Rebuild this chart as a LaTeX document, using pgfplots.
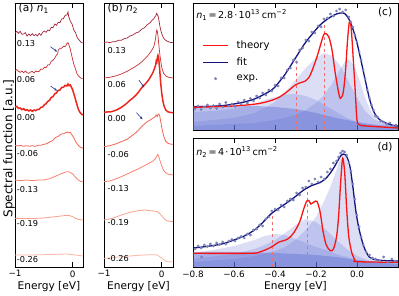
\documentclass[border=0pt]{standalone}
\usepackage{fontspec}
\setmainfont{DejaVu Sans}
\usepackage{pgfplots}
\pgfplotsset{compat=1.18}
\usetikzlibrary{arrows.meta}

\definecolor{c1}{RGB}{165,35,55}
\definecolor{c2}{RGB}{200,45,50}
\definecolor{c3}{RGB}{235,40,30}
\definecolor{c4}{RGB}{244,100,85}
\definecolor{c5}{RGB}{247,130,112}
\definecolor{c6}{RGB}{249,160,140}
\definecolor{c7}{RGB}{251,185,165}
\definecolor{arrowblue}{RGB}{40,50,150}
\definecolor{theoryred}{RGB}{250,20,20}
\definecolor{fitnavy}{RGB}{20,20,130}
\definecolor{expcol}{RGB}{125,130,185}
\definecolor{compblue}{RGB}{90,105,210}
\definecolor{dashred}{RGB}{240,110,110}

\pgfplotsset{
  specax/.style={scale only axis, height=264pt, xmin=-1, ymin=9, ymax=801, y dir=reverse,
    xtick={-1,0}, xticklabels={−1,0}, ytick=\empty,
    tick align=inside, major tick length=5pt,
    tick style={black, line width=0.8pt}, axis line style={black, line width=0.8pt},
    xticklabel style={font=\fontsize{8.8}{9}\selectfont},
    xlabel={Energy [eV]},
    xlabel style={at={(axis description cs:0.5,0)}, anchor=north, inner sep=0pt, yshift=-14pt, font=\fontsize{10.6}{12}\selectfont},
    clip=true},
  rightax/.style={scale only axis, width=205pt, xmin=-0.8, xmax=0.2, ymin=0,
    xtick={-0.8,-0.6,-0.4,-0.2,0}, ytick=\empty,
    tick align=inside, major tick length=5pt,
    tick style={black, line width=0.8pt}, axis line style={black, line width=0.8pt},
    xticklabel style={font=\fontsize{8.8}{9}\selectfont}, clip=true},
  comp/.style={fill=compblue, fill opacity=0.22, draw=none, forget plot},
  base/.style={fill=compblue, fill opacity=0.4, draw=none, forget plot},
  legline red/.style={legend image code/.code={\draw[theoryred, line width=1.3pt] (0pt,0pt) -- (25pt,0pt);}},
  legline navy/.style={legend image code/.code={\draw[fitnavy, line width=1.3pt] (0pt,0pt) -- (25pt,0pt);}},
  legdot/.style={legend image code/.code={\fill[expcol] (12.5pt,0pt) circle (1.3pt);}},
}

\begin{document}
\begin{tikzpicture}
\useasboundingbox (0,0) rectangle (399pt,296pt);

% ---------------- panel (a)
\begin{axis}[specax, at={(15pt,29pt)}, anchor=south west, width=68pt, xmax=0.18,
  ylabel={Spectral function [a.u.]},
  ylabel style={at={(axis description cs:0,0.4545)}, anchor=south, inner sep=0pt, xshift=-1.5pt, font=\fontsize{12}{14}\selectfont}]
\addplot[c1, line width=0.7pt] coordinates {
(-1.00,99) (-0.97,94) (-0.94,100) (-0.91,94) (-0.88,103) (-0.85,102) (-0.82,98) (-0.79,108) (-0.76,102) (-0.73,107)
(-0.70,101) (-0.67,107) (-0.64,103) (-0.61,108) (-0.58,100) (-0.55,106) (-0.52,97) (-0.49,93) (-0.46,97) (-0.43,90)
(-0.40,92) (-0.37,82) (-0.34,83) (-0.31,72) (-0.28,76) (-0.25,67) (-0.22,68) (-0.19,57) (-0.16,56) (-0.13,46)
(-0.10,45) (-0.08,36) (-0.07,48) (-0.04,64) (-0.01,72) (0.02,90) (0.05,98) (0.08,113) (0.11,119) (0.14,126) (0.17,129)};
\addplot[c2, line width=0.7pt] coordinates {
(-1.00,212) (-0.97,209) (-0.94,214) (-0.91,217) (-0.88,213) (-0.85,218) (-0.82,213) (-0.79,218) (-0.76,220) (-0.73,216)
(-0.70,214) (-0.67,219) (-0.64,213) (-0.61,215) (-0.58,214) (-0.55,207) (-0.52,208) (-0.49,202) (-0.46,203) (-0.43,195)
(-0.40,194) (-0.37,184) (-0.34,181) (-0.31,174) (-0.28,165) (-0.26,162) (-0.25,150) (-0.22,145) (-0.19,145) (-0.16,139)
(-0.13,140) (-0.10,131) (-0.08,128) (-0.06,137) (-0.04,148) (-0.01,171) (0.02,192) (0.05,207) (0.08,223) (0.11,229) (0.14,234) (0.17,236)};
\addplot[c3, line width=1.5pt] coordinates {
(-1.00,321) (-0.97,319) (-0.94,325) (-0.91,324) (-0.88,329) (-0.85,326) (-0.82,331) (-0.79,329) (-0.76,333) (-0.73,330)
(-0.70,334) (-0.67,330) (-0.64,332) (-0.61,328) (-0.58,328) (-0.55,322) (-0.52,321) (-0.49,314) (-0.46,311) (-0.43,304)
(-0.40,301) (-0.37,292) (-0.34,290) (-0.31,281) (-0.28,279) (-0.25,271) (-0.22,270) (-0.19,262) (-0.16,262) (-0.13,256)
(-0.10,258) (-0.08,252) (-0.06,257) (-0.04,255) (-0.02,262) (0.00,269) (0.02,281) (0.04,292) (0.06,305) (0.08,317)
(0.10,328) (0.12,335) (0.14,340) (0.16,343) (0.18,345)};
\addplot[c4, line width=0.8pt] coordinates {
(-1.00,436) (-0.95,438) (-0.90,436) (-0.85,439) (-0.80,437) (-0.75,439) (-0.70,437) (-0.65,439) (-0.60,436) (-0.55,436)
(-0.50,433) (-0.45,431) (-0.40,426) (-0.35,422) (-0.30,413) (-0.25,409) (-0.20,402) (-0.15,401) (-0.10,396) (-0.07,398)
(-0.04,397) (-0.01,405) (0.02,413) (0.05,424) (0.08,432) (0.11,438) (0.14,442) (0.18,445)};
\addplot[c5, line width=0.8pt] coordinates {
(-1.00,540) (-0.90,542) (-0.80,540) (-0.70,542) (-0.60,540) (-0.50,540) (-0.40,536) (-0.30,529) (-0.20,521) (-0.15,518)
(-0.10,515) (-0.05,516) (0.00,522) (0.05,532) (0.10,540) (0.14,544) (0.18,546)};
\addplot[c6, line width=0.8pt] coordinates {
(-1.00,655) (-0.80,656) (-0.60,655) (-0.50,654) (-0.40,652) (-0.30,650) (-0.20,648) (-0.10,646) (-0.05,647) (0.00,650)
(0.05,655) (0.10,658) (0.18,660)};
\addplot[c7, line width=0.8pt] coordinates {
(-1.00,765) (-0.70,765) (-0.50,764) (-0.30,763) (-0.10,762) (0.00,764) (0.10,766) (0.18,768)};
\addplot[arrowblue, line width=0.6pt, -{Stealth[length=3pt,width=2.5pt]}] coordinates {(-0.385,140) (-0.27,155)};
\addplot[arrowblue, line width=0.6pt, -{Stealth[length=3pt,width=2.5pt]}] coordinates {(-0.385,258) (-0.27,272)};
\begin{scope}[font=\fontsize{8.2}{9}\selectfont]
\node[anchor=west, inner sep=0pt] at (axis cs:-0.97,130) {0.13};
\node[anchor=west, inner sep=0pt] at (axis cs:-0.97,240) {0.06};
\node[anchor=west, inner sep=0pt] at (axis cs:-0.97,352) {0.00};
\node[anchor=west, inner sep=0pt] at (axis cs:-0.97,462) {-0.06};
\node[anchor=west, inner sep=0pt] at (axis cs:-0.97,570) {-0.13};
\node[anchor=west, inner sep=0pt] at (axis cs:-0.97,672) {-0.19};
\node[anchor=west, inner sep=0pt] at (axis cs:-0.97,778) {-0.26};
\end{scope}
\end{axis}

% ---------------- panel (b)
\begin{axis}[specax, at={(104pt,29pt)}, anchor=south west, width=69pt, xmax=0.195]
\addplot[c1, line width=0.7pt] coordinates {
(-1.00,128) (-0.95,126) (-0.90,128) (-0.85,125) (-0.80,125) (-0.75,121) (-0.70,121) (-0.65,116) (-0.60,114) (-0.55,108)
(-0.50,105) (-0.45,99) (-0.40,96) (-0.35,88) (-0.30,83) (-0.25,74) (-0.20,68) (-0.17,61) (-0.14,57) (-0.12,51)
(-0.10,47) (-0.09,40) (-0.075,44) (-0.06,50) (-0.045,65) (-0.03,80) (-0.015,92) (0.00,101) (0.02,110) (0.04,116)
(0.07,121) (0.10,124) (0.14,127) (0.195,128)};
\addplot[c2, line width=0.7pt] coordinates {
(-1.00,234) (-0.95,233) (-0.90,232) (-0.85,230) (-0.80,228) (-0.75,225) (-0.70,222) (-0.65,218) (-0.60,214) (-0.55,209)
(-0.50,204) (-0.45,199) (-0.40,193) (-0.35,186) (-0.30,178) (-0.25,169) (-0.20,158) (-0.17,150) (-0.14,141) (-0.12,128)
(-0.105,112) (-0.095,98) (-0.085,90) (-0.075,95) (-0.065,108) (-0.05,135) (-0.035,160) (-0.02,180) (0.00,202) (0.03,219)
(0.07,228) (0.12,232) (0.195,234)};
\addplot[c3, line width=1.5pt] coordinates {
(-1.00,337) (-0.95,336) (-0.90,336) (-0.85,334) (-0.80,331) (-0.75,327) (-0.70,322) (-0.65,316) (-0.60,309) (-0.55,301)
(-0.50,294) (-0.45,286) (-0.40,276) (-0.35,264) (-0.30,255) (-0.26,247) (-0.22,238) (-0.19,229) (-0.16,220) (-0.14,212)
(-0.12,203) (-0.105,195) (-0.095,183) (-0.085,186) (-0.075,172) (-0.065,166) (-0.055,172) (-0.045,190) (-0.035,210) (-0.02,245)
(0.00,280) (0.02,303) (0.04,318) (0.07,330) (0.10,335) (0.14,337) (0.195,338)};
\addplot[c4, line width=0.8pt] coordinates {
(-1.00,440) (-0.90,437) (-0.80,432) (-0.70,425) (-0.60,418) (-0.50,405) (-0.45,398) (-0.40,390) (-0.35,380) (-0.30,372)
(-0.25,365) (-0.20,360) (-0.15,354) (-0.12,351) (-0.095,345) (-0.08,350) (-0.065,343) (-0.05,342) (-0.035,348) (-0.02,362)
(0.00,382) (0.02,398) (0.04,412) (0.07,424) (0.10,429) (0.14,432) (0.195,433)};
\addplot[c5, line width=0.8pt] coordinates {
(-1.00,545) (-0.90,543) (-0.80,537) (-0.70,530) (-0.60,522) (-0.50,514) (-0.40,506) (-0.30,497) (-0.20,488) (-0.15,483)
(-0.11,476) (-0.09,470) (-0.07,463) (-0.055,468) (-0.04,476) (-0.02,488) (0.00,498) (0.03,510) (0.06,517) (0.10,522) (0.195,525)};
\addplot[c6, line width=0.8pt] coordinates {
(-1.00,660) (-0.85,655) (-0.70,645) (-0.55,637) (-0.40,632) (-0.30,630) (-0.20,632) (-0.10,634) (-0.05,638) (0.00,647)
(0.05,658) (0.10,663) (0.195,665)};
\addplot[c7, line width=0.8pt] coordinates {
(-1.00,775) (-0.85,773) (-0.70,770) (-0.55,768) (-0.40,766) (-0.20,764) (-0.10,764) (-0.05,768) (0.00,775) (0.05,781)
(0.10,785) (0.195,786)};
\addplot[arrowblue, line width=0.6pt, -{Stealth[length=3pt,width=2.5pt]}] coordinates {(-0.397,240) (-0.305,262)};
\addplot[arrowblue, line width=0.6pt, -{Stealth[length=3pt,width=2.5pt]}] coordinates {(-0.437,338) (-0.333,358)};
\begin{scope}[font=\fontsize{8.2}{9}\selectfont]
\node[anchor=west, inner sep=0pt] at (axis cs:-0.94,152) {0.13};
\node[anchor=west, inner sep=0pt] at (axis cs:-0.94,255) {0.06};
\node[anchor=west, inner sep=0pt] at (axis cs:-0.94,355) {0.00};
\node[anchor=west, inner sep=0pt] at (axis cs:-0.94,465) {-0.06};
\node[anchor=west, inner sep=0pt] at (axis cs:-0.94,565) {-0.13};
\node[anchor=west, inner sep=0pt] at (axis cs:-0.94,668) {-0.19};
\node[anchor=west, inner sep=0pt] at (axis cs:-0.94,775) {-0.26};
\end{scope}
\end{axis}

% panel titles (a), (b)
\node[anchor=west, inner sep=0pt, font=\fontsize{10.6}{12}\selectfont] at (18.5pt,287.5pt) {(a) \textit{n}\textsubscript{1}};
\node[anchor=west, inner sep=0pt, font=\fontsize{10.6}{12}\selectfont] at (107.5pt,287.5pt) {(b) \textit{n}\textsubscript{2}};

% ---------------- panel (c)
\begin{axis}[rightax, at={(193pt,166pt)}, anchor=south west, height=127pt, ymax=127, xticklabels={},
  legend style={draw=none, fill=none, at={(axis description cs:0.045,0.72)}, anchor=north west,
    font=\fontsize{10.1}{11}\selectfont, row sep=4pt, column sep=6pt, inner sep=0pt},
  legend cell align=left]
\addplot[base] coordinates {(-0.8,24) (-0.6,24) (-0.5,24) (-0.4,23) (-0.3,21) (-0.2,17) (-0.1,12) (0,8) (0.1,5) (0.2,4)} \closedcycle;
\addplot[comp] coordinates {(-0.8,18) (-0.7,19) (-0.6,21) (-0.5,26) (-0.45,30) (-0.4,33) (-0.35,35.5) (-0.3,36) (-0.25,34)
 (-0.2,30) (-0.15,24) (-0.1,18) (-0.05,12) (0,8) (0.05,5) (0.1,4) (0.2,3)} \closedcycle;
\addplot[comp] coordinates {(-0.8,8) (-0.6,12) (-0.5,17) (-0.45,22) (-0.4,28) (-0.35,38) (-0.3,50) (-0.25,62) (-0.2,72)
 (-0.16,77) (-0.12,74) (-0.08,64) (-0.04,48) (0,32) (0.04,19) (0.08,11) (0.12,7) (0.2,4)} \closedcycle;
\addplot[comp] coordinates {(-0.8,4) (-0.5,7) (-0.4,10) (-0.3,15) (-0.25,20) (-0.2,27) (-0.16,35) (-0.12,47) (-0.09,58)
 (-0.06,68) (-0.045,71) (-0.03,69) (-0.01,62) (0.01,51) (0.03,38) (0.05,27) (0.07,18) (0.1,10) (0.14,6) (0.2,4)} \closedcycle;
\addplot[dashred, dashed, line width=0.5pt, forget plot] coordinates {(-0.298,0) (-0.298,72)};
\addplot[dashred, dashed, line width=0.5pt, forget plot] coordinates {(-0.158,0) (-0.158,110)};
\addplot[only marks, mark=*, mark size=1.2pt, expcol, forget plot] coordinates {
(-0.79,21) (-0.775,24) (-0.76,20.5) (-0.745,23) (-0.73,25) (-0.715,22) (-0.70,24.5) (-0.685,21.5) (-0.67,26) (-0.655,23)
(-0.64,27.5) (-0.625,24) (-0.61,26) (-0.595,23.5) (-0.58,28) (-0.565,26) (-0.55,30) (-0.535,27) (-0.52,31.5) (-0.505,29)
(-0.49,34) (-0.475,32) (-0.46,37) (-0.445,35) (-0.43,40) (-0.415,39) (-0.40,45) (-0.385,44) (-0.37,52) (-0.355,52)
(-0.34,60) (-0.325,62) (-0.31,70) (-0.295,68) (-0.28,80) (-0.265,82) (-0.25,90) (-0.235,89) (-0.22,98) (-0.205,97)
(-0.19,104) (-0.175,103) (-0.16,111) (-0.145,112) (-0.13,116) (-0.115,114) (-0.10,119) (-0.085,121) (-0.07,118) (-0.055,120)
(-0.04,113) (-0.03,108) (-0.02,103) (-0.01,95) (0.00,88) (0.01,78) (0.02,70) (0.03,60) (0.04,51) (0.05,40)
(0.06,32) (0.07,25) (0.08,20) (0.09,14) (0.10,13) (0.115,9) (0.13,8) (0.145,6) (0.16,7) (0.175,4) (0.19,5)};
\addplot[fitnavy, line width=1.3pt, smooth, forget plot] coordinates {
(-0.80,23) (-0.75,23.5) (-0.70,23.8) (-0.65,24.5) (-0.60,26) (-0.55,28) (-0.50,31) (-0.45,36) (-0.42,39.5) (-0.40,43)
(-0.38,48) (-0.36,53) (-0.34,59) (-0.32,65.5) (-0.30,72) (-0.28,78.5) (-0.26,85) (-0.24,90.5) (-0.22,95.5) (-0.20,100.5)
(-0.18,105) (-0.16,108.5) (-0.14,111.5) (-0.12,114) (-0.10,116) (-0.08,117) (-0.06,116.5) (-0.04,111) (-0.02,101) (0.00,87)
(0.02,69) (0.04,50) (0.06,32) (0.08,19) (0.10,12.5) (0.12,9) (0.14,7) (0.16,5.5) (0.18,4.5) (0.20,4)};
\addplot[theoryred, line width=1.3pt, smooth, forget plot] coordinates {
(-0.80,22.7) (-0.602,24) (-0.472,26.7) (-0.390,31.7) (-0.341,38.3) (-0.301,45) (-0.276,47.3) (-0.252,49) (-0.228,55)
(-0.195,73.3) (-0.171,90) (-0.158,96.7) (-0.138,93.3) (-0.122,80) (-0.106,56.7) (-0.089,36.7) (-0.081,31.7) (-0.068,36.7)
(-0.057,56.7) (-0.046,90) (-0.037,108.3) (-0.029,103.3) (-0.020,76.7) (-0.008,36.7) (0.0,10) (0.013,5) (0.049,4) (0.2,2)};
\addlegendimage{legline red}
\addlegendentry{theory}
\addlegendimage{legline navy}
\addlegendentry{fit}
\addlegendimage{legdot}
\addlegendentry{exp.}
\node[anchor=west, inner sep=0pt, font=\fontsize{9.6}{12}\selectfont] at (axis cs:-0.785,115) {\textit{n}\textsubscript{1}\hspace{0.15em}=\hspace{0.15em}2.8\hspace{0.12em}·\hspace{0.12em}10\textsuperscript{13}\hspace{0.2em}cm\textsuperscript{−2}};
\node[inner sep=0pt, font=\fontsize{10.6}{12}\selectfont] at (axis cs:0.137,118) {(c)};
\end{axis}

% ---------------- panel (d)
\begin{axis}[rightax, at={(193pt,29pt)}, anchor=south west, height=129pt, ymax=129,
  xticklabels={−0.8,−0.6,−0.4,−0.2,0.0},
  xlabel={Energy [eV]},
  xlabel style={at={(axis description cs:0.5,0)}, anchor=north, inner sep=0pt, yshift=-14pt, font=\fontsize{10.6}{12}\selectfont}]
\addplot[base] coordinates {(-0.8,15) (-0.6,15) (-0.4,14) (-0.2,12) (-0.1,10) (0,7) (0.1,5) (0.2,4)} \closedcycle;
\addplot[comp] coordinates {(-0.8,14) (-0.7,17) (-0.6,21) (-0.5,27) (-0.45,31) (-0.4,33) (-0.35,32) (-0.3,28) (-0.25,24)
 (-0.2,20) (-0.15,17) (-0.1,13) (-0.05,10) (0,7) (0.1,4) (0.2,3)} \closedcycle;
\addplot[comp] coordinates {(-0.8,8) (-0.6,13) (-0.5,18) (-0.45,22) (-0.4,27) (-0.35,34) (-0.3,42) (-0.25,48) (-0.2,45)
 (-0.15,37) (-0.1,27) (-0.05,18) (0,11) (0.05,7) (0.1,5) (0.2,4)} \closedcycle;
\addplot[comp] coordinates {(-0.8,5) (-0.6,8) (-0.5,11) (-0.4,16) (-0.35,20) (-0.3,27) (-0.25,37) (-0.2,50) (-0.16,66)
 (-0.13,80) (-0.1,97) (-0.08,109) (-0.07,112) (-0.055,110) (-0.04,100) (-0.02,78) (0,48) (0.02,28) (0.04,15) (0.06,9)
 (0.1,5) (0.2,3)} \closedcycle;
\addplot[dashred, dashed, line width=0.5pt, forget plot] coordinates {(-0.411,0) (-0.411,55)};
\addplot[dashred, dashed, line width=0.5pt, forget plot] coordinates {(-0.242,0) (-0.242,79)};
\addplot[only marks, mark=*, mark size=1.2pt, expcol, forget plot] coordinates {
(-0.79,18) (-0.775,21) (-0.76,19) (-0.758,10) (-0.745,22) (-0.73,20.5) (-0.715,23) (-0.70,21) (-0.685,24) (-0.67,22.5)
(-0.655,25) (-0.64,23) (-0.625,26) (-0.61,27.5) (-0.595,26) (-0.58,29) (-0.565,30.5) (-0.55,29) (-0.535,33) (-0.52,32)
(-0.505,37) (-0.49,38) (-0.475,42) (-0.46,41) (-0.445,48) (-0.43,50) (-0.415,56) (-0.40,58) (-0.385,57) (-0.37,62)
(-0.355,60) (-0.34,66) (-0.325,68) (-0.31,67) (-0.295,74) (-0.28,72) (-0.265,79) (-0.25,80) (-0.235,86) (-0.22,83)
(-0.205,88) (-0.19,85) (-0.175,90) (-0.16,88) (-0.145,95) (-0.13,98) (-0.115,104) (-0.10,106) (-0.09,110) (-0.08,114)
(-0.07,116) (-0.06,115) (-0.05,112) (-0.04,104) (-0.03,96) (-0.02,83) (-0.01,68) (0.00,52) (0.01,40) (0.02,30)
(0.03,22) (0.045,15) (0.06,12) (0.075,9) (0.09,8) (0.11,6) (0.13,10) (0.15,5) (0.17,8) (0.185,6)};
\addplot[fitnavy, line width=1.3pt, smooth, forget plot] coordinates {
(-0.80,19) (-0.766,19.7) (-0.70,21.5) (-0.65,23.5) (-0.60,27) (-0.55,31) (-0.50,37) (-0.46,44.5) (-0.42,53) (-0.38,59)
(-0.34,64.5) (-0.30,70.5) (-0.26,77) (-0.22,81.5) (-0.18,84.5) (-0.15,89) (-0.12,97) (-0.10,104) (-0.08,111) (-0.065,113)
(-0.05,110.3) (-0.035,101) (-0.02,80) (-0.005,55) (0.01,38) (0.025,26) (0.04,17) (0.06,10) (0.08,7.7) (0.12,6.6)
(0.16,6.2) (0.20,6)};
\addplot[theoryred, line width=1.3pt, smooth, forget plot] coordinates {
(-0.80,13.7) (-0.52,13.7) (-0.47,15.3) (-0.42,19.7) (-0.38,25) (-0.34,27.7) (-0.31,33.7) (-0.28,45) (-0.26,58) (-0.245,66)
(-0.235,66.5) (-0.225,63) (-0.21,65) (-0.195,65.5) (-0.18,55) (-0.165,35) (-0.15,22) (-0.13,16.3) (-0.115,18) (-0.10,30)
(-0.09,50) (-0.08,84) (-0.07,108.7) (-0.06,94) (-0.05,57) (-0.04,30) (-0.025,14) (-0.01,7) (0.00,5.3) (0.20,4.7)};
\node[anchor=west, inner sep=0pt, font=\fontsize{9.6}{12}\selectfont] at (axis cs:-0.785,115) {\textit{n}\textsubscript{2}\hspace{0.15em}=\hspace{0.15em}4\hspace{0.12em}·\hspace{0.12em}10\textsuperscript{13}\hspace{0.2em}cm\textsuperscript{−2}};
\node[inner sep=0pt, font=\fontsize{10.6}{12}\selectfont] at (axis cs:0.137,120) {(d)};
\end{axis}
\end{tikzpicture}
\end{document}
